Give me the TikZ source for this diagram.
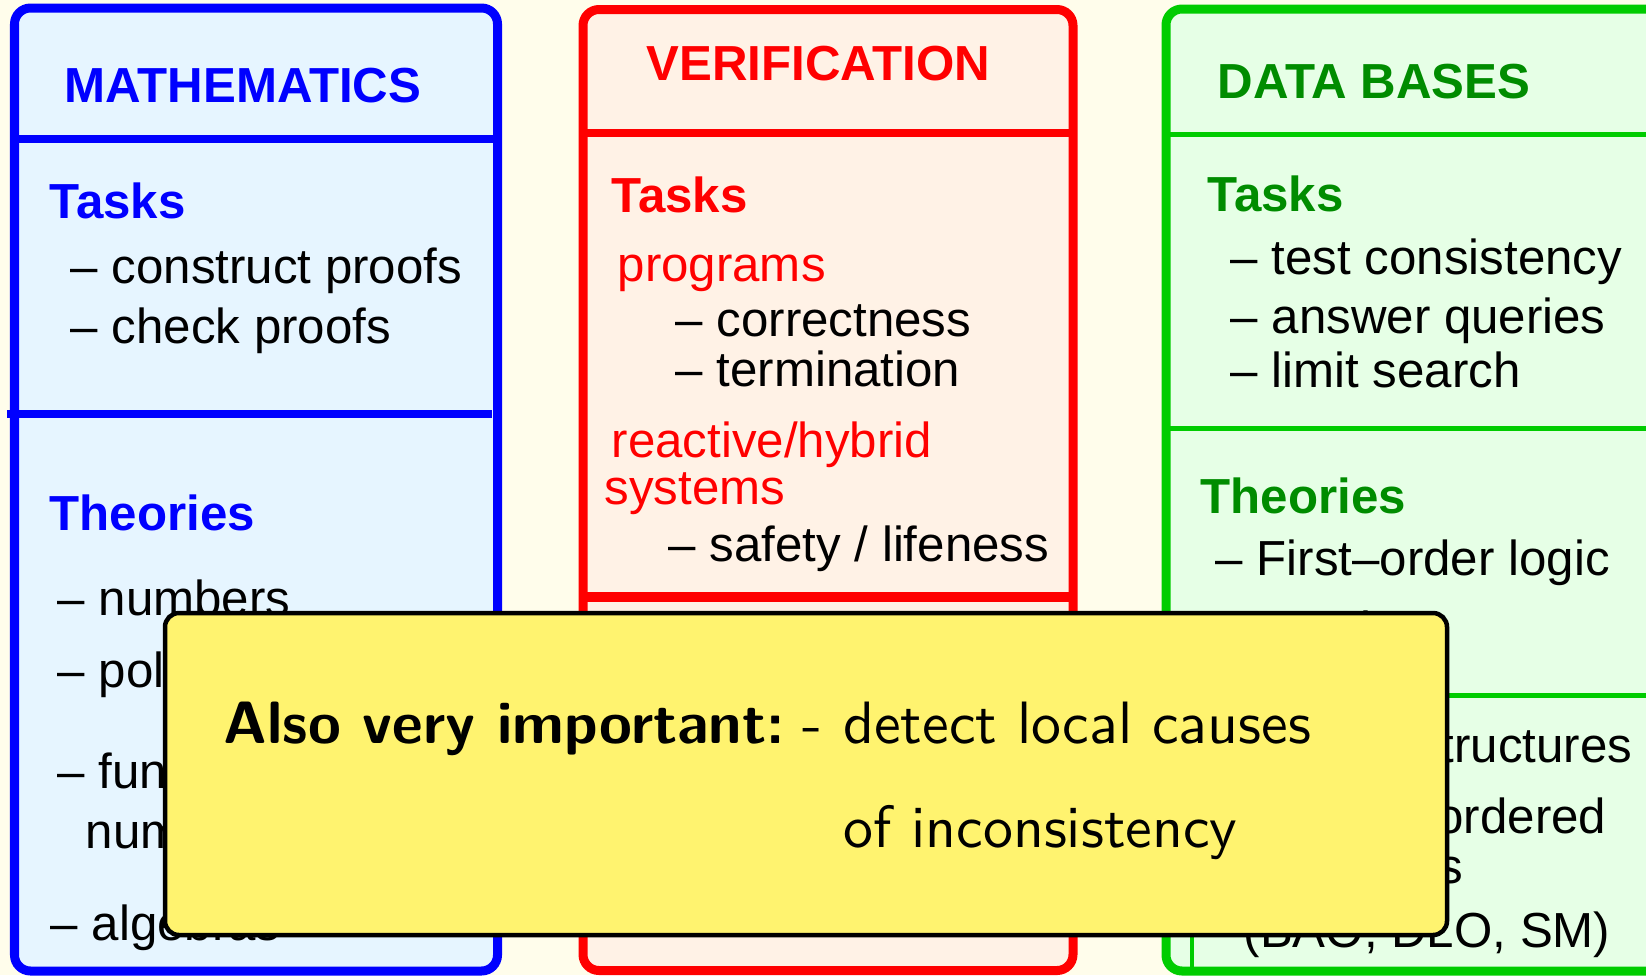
\documentclass[tikz,border=0pt]{standalone}
\usepackage{fontspec}
\newfontfamily\helv{Liberation Sans}[Ligatures=TeX]
\newfontfamily\notefont{lmsans10-regular.otf}[BoldFont=lmsans10-bold.otf, Ligatures=TeX]

\definecolor{paper}{RGB}{255,253,235}
\definecolor{mathfill}{RGB}{230,245,255}
\definecolor{verfill}{RGB}{255,242,230}
\definecolor{dbfill}{RGB}{230,255,230}
\definecolor{dbline}{RGB}{0,204,0}
\definecolor{dbtext}{RGB}{0,140,0}
\definecolor{notefill}{RGB}{255,243,111}

\begin{document}
\begin{tikzpicture}
[
  x=0.01cm, y=-0.01cm,
  column/.style = {line width=0.09cm, rounded corners=0.16cm},
  sep/.style = {line width=0.085cm},
  thinsep/.style = {line width=0.05cm},
  head/.style = {anchor=base west, inner sep=0pt, font=\helv\bfseries\fontsize{14}{17}\selectfont},
  item/.style = {anchor=base west, inner sep=0pt, font=\helv\fontsize{14}{17}\selectfont},
  note/.style = {draw=black, line width=0.045cm, fill=notefill, rounded corners=0.14cm},
]

\path[use as bounding box, fill=paper] (0,0) rectangle (1646,975);
\clip (0,0) rectangle (1646,975);

% mathematics
\draw[column, draw=blue, fill=mathfill] (14.5,8) rectangle (497.5,971);
\draw[sep, blue] (14.5,139) -- (497.5,139);
\draw[sep, blue] (7,414) -- (492,414);

\node (mhead) at (64,102) [head, blue] {MATHEMATICS};
\node (mtasks) at (49,218) [head, blue] {Tasks};
\node (mt1) at (70,283) [item] {-- construct proofs};
\node (mt2) at (70,343) [item] {-- check proofs};
\node (mtheo) at (49,530) [head, blue] {Theories};
\node (mh1) at (57,615) [item] {-- numbers};
\node (mh2) at (57,687) [item] {-- polynomials};
\node (mh3) at (57,788) [item] {-- functions over};
\node (mh3b) at (85,848) [item] {numbers};
\node (mh4) at (50,940) [item] {-- algebras};

% verification
\draw[column, draw=red, fill=verfill] (583,9.5) rectangle (1073,970.5);
\draw[sep, red] (583,133) -- (1073,133);
\draw[sep, red, line width=0.1cm] (583,597) -- (1073,597);

\node (vhead) at (646,80) [head, red] {VERIFICATION};
\node (vtasks) at (611,212) [head, red] {Tasks};
\node (vprog) at (617,281) [item, red] {programs};
\node (vp1) at (675,336) [item] {-- correctness};
\node (vp2) at (675,386) [item] {-- termination};
\node (vreact) at (611,457) [item, red] {reactive/hybrid};
\node (vsys) at (604,504) [item, red] {systems};
\node (vs1) at (668,561) [item] {-- safety / lifeness};

% data bases
\draw[column, draw=dbline, fill=dbfill] (1166,9) rectangle (1690,971);
\draw[thinsep, dbline] (1166,134) -- (1690,134);
\draw[thinsep, dbline] (1166,428) -- (1690,428);
\draw[thinsep, dbline] (1166,695) -- (1690,695);
\draw[line width=0.04cm, dbline] (1192,700) -- (1192,975);

\node (dhead) at (1217,98) [head, dbtext] {DATA BASES};
\node (dtasks) at (1207,211) [head, dbtext] {Tasks};
\node (dt1) at (1230,274) [item] {-- test consistency};
\node (dt2) at (1230,333) [item] {-- answer queries};
\node (dt3) at (1230,387) [item] {-- limit search};
\node (dtheo) at (1200,513) [head, dbtext] {Theories};
\node (dh1) at (1215,575) [item] {-- First--order logic};
\node (dh2) at (1215,646) [item] {-- Datalog};
\node (dh3) at (1633,762) [item, anchor=base east] {-- Data structures};
\node (dh4) at (1607,833) [item, anchor=base east] {-- Totally ordered};
\node (dh4b) at (1464,883) [item, anchor=base east] {domains};
\node (dh5) at (1243,947) [item] {(BAO, DLO, SM)};

% note on top
\draw[note] (165,613) rectangle (1447,935);
\node (imp) at (223,743) [anchor=base west, inner sep=0pt, font=\notefont\fontsize{17}{20.4}\selectfont]
  {\begin{tabular}[t]{@{}l@{\hspace{0.35em}}l@{}}
   \textbf{Also very important:}\hspace{0.3em}- & detect local causes\\[9.2pt]
   & of inconsistency
   \end{tabular}};

\end{tikzpicture}
\end{document}
